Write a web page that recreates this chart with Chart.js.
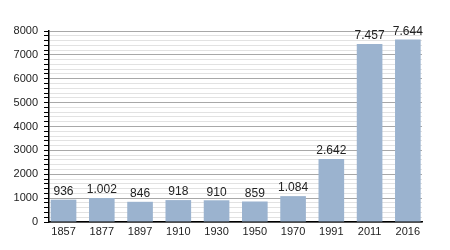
<!DOCTYPE html>
<html>
<head>
<meta charset="utf-8">
<script src="https://cdn.jsdelivr.net/npm/chart.js@4.4.0/dist/chart.umd.min.js"></script>
<style>
  body { margin: 0; background: #fff; }
  #wrap { width: 450px; height: 250px; }
</style>
</head>
<body>
<div id="wrap"><canvas id="myChart"></canvas></div>
<script>
const years = ['1857', '1877', '1897', '1910', '1930', '1950', '1970', '1991', '2011', '2016'];
const population = [936, 1002, 846, 918, 910, 859, 1084, 2642, 7457, 7644];
const yTicks = [0, 1000, 2000, 3000, 4000, 5000, 6000, 7000, 8000];

const fontFam = '"Liberation Sans", Arial, sans-serif';

// 1.002 style numbers
const fmt = (v) => String(v).replace(/\B(?=(\d{3})+(?!\d))/g, '.');

const valueLabels = {
    id: 'valueLabels',
    afterDatasetsDraw(chart) {
        const ctx = chart.ctx;
        const meta = chart.getDatasetMeta(0);
        ctx.save();
        ctx.font = '12px ' + fontFam;
        ctx.fillStyle = '#222';
        ctx.textAlign = 'center';
        ctx.textBaseline = 'bottom';
        meta.data.forEach((bar, i) => {
            ctx.fillText(fmt(population[i]), bar.x, bar.y - 2);
        });
        ctx.restore();
    }
};

const ctx = document.getElementById('myChart');
new Chart(ctx, {
    type: 'bar',
    data: {
        datasets: [{
            data: population.map((v, i) => ({ x: i, y: v })),
            backgroundColor: '#9bb3cf',
            borderWidth: 0,
            barPercentage: 0.67,
            categoryPercentage: 1
        }]
    },
    options: {
        responsive: true,
        maintainAspectRatio: false,
        animation: false,
        layout: { padding: { left: 0, right: 28, top: 31, bottom: 0 } },
        plugins: { legend: { display: false }, tooltip: { enabled: false } },
        scales: {
            x: {
                type: 'linear',
                offset: false,
                min: -0.38,
                max: 9.37,
                afterBuildTicks: (scale) => {
                    scale.ticks = years.map((_, i) => ({ value: i }));
                },
                afterFit: (scale) => { scale.height = 28; },
                grid: { display: false, drawTicks: false, offset: false },
                border: { display: true, color: '#000', width: 1.5 },
                ticks: {
                    autoSkip: false,
                    maxRotation: 0,
                    padding: 3,
                    color: '#222',
                    font: { family: fontFam, size: 11 },
                    callback: (v) => years[v]
                }
            },
            y: {
                min: 0,
                max: 8000,
                afterFit: (scale) => { scale.width = 49; },
                border: { display: true, color: '#000', width: 1.5 },
                grid: {
                    color: (c) => (c.tick && c.tick.value % 1000 === 0) ? '#a8a8a8' : '#e2e2e2',
                    tickColor: '#000',
                    tickLength: 5,
                    drawTicks: true
                },
                ticks: {
                    stepSize: 200,
                    autoSkip: false,
                    padding: 6,
                    color: '#222',
                    font: { family: fontFam, size: 11 },
                    callback: (v) => yTicks.includes(v) ? String(v) : ''
                }
            }
        }
    },
    plugins: [valueLabels]
});
</script>
</body>
</html>
